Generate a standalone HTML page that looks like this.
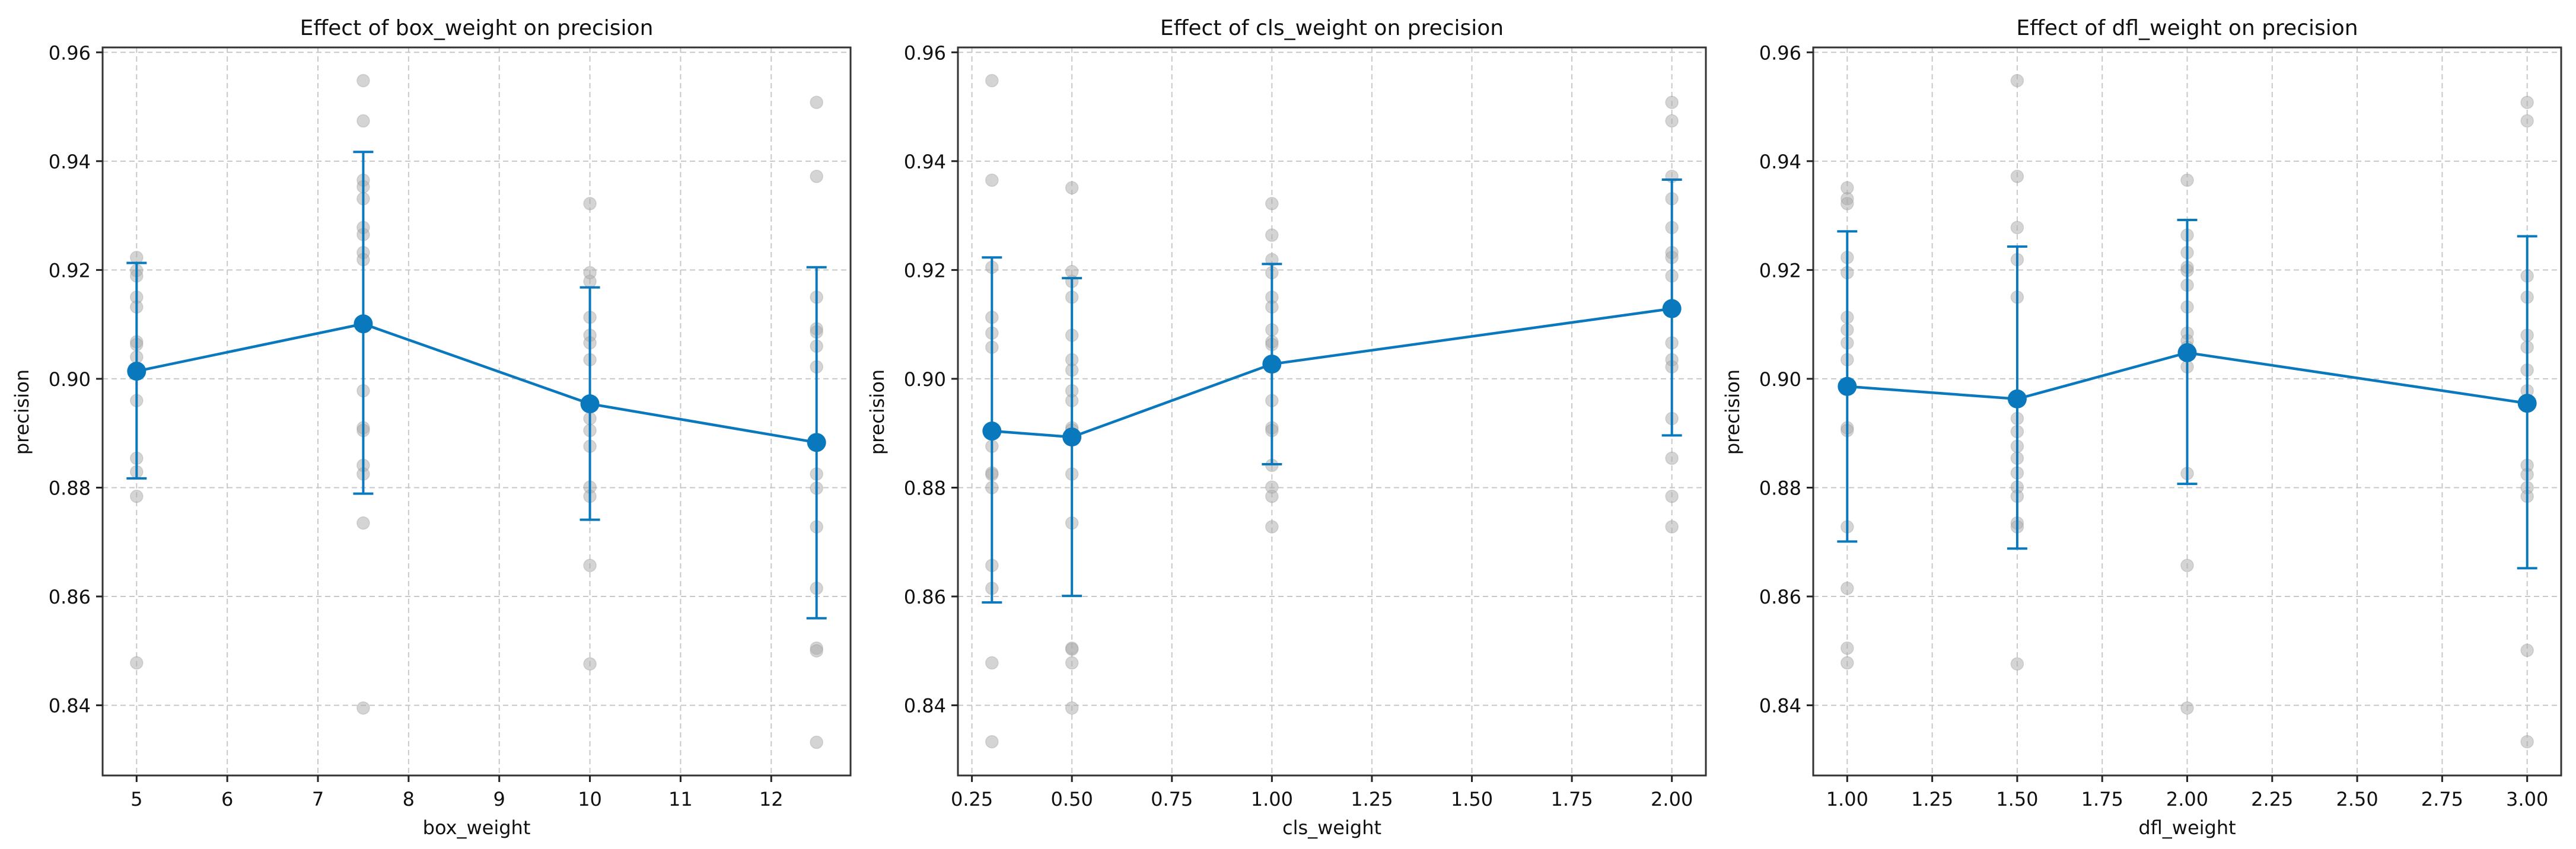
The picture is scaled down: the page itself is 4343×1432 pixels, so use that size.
<!DOCTYPE html>
<html><head><meta charset="utf-8"><style>
html,body{margin:0;padding:0;background:#fff}
svg{display:block}
text{font-family:"DejaVu Sans","Liberation Sans",sans-serif;fill:#111}
</style></head><body>
<svg id="chart" width="4343" height="1432" viewBox="0 0 4343 1432" xmlns="http://www.w3.org/2000/svg"></svg>
<script>
// ---- data ----
const yTicks = [0.84, 0.86, 0.88, 0.90, 0.92, 0.94, 0.96];
const yTickLabels = ["0.84", "0.86", "0.88", "0.90", "0.92", "0.94", "0.96"];

const boxCats = [5, 7.5, 10, 12.5];
const boxTicks = [5, 6, 7, 8, 9, 10, 11, 12];
const boxTickLabels = ["5", "6", "7", "8", "9", "10", "11", "12"];
const boxMeans = [0.9014, 0.9101, 0.8954, 0.8883];
const boxUpper = [0.9213, 0.9417, 0.9168, 0.9205];
const boxLower = [0.8817, 0.8789, 0.8741, 0.8560];
const boxPts0 = [0.9223, 0.9199, 0.9189, 0.9150, 0.9132, 0.9068, 0.9063, 0.9040, 0.8960, 0.8854, 0.8829, 0.8784, 0.8478];
const boxPts1 = [0.9548, 0.9474, 0.9365, 0.9353, 0.9331, 0.9278, 0.9265, 0.9232, 0.9219, 0.8978, 0.8910, 0.8905, 0.8841, 0.8825, 0.8735, 0.8395];
const boxPts2 = [0.9322, 0.9195, 0.9179, 0.9113, 0.9080, 0.9066, 0.9035, 0.8927, 0.8905, 0.8876, 0.8801, 0.8784, 0.8657, 0.8476];
const boxPts3 = [0.9508, 0.9372, 0.9150, 0.9092, 0.9086, 0.9060, 0.9022, 0.8825, 0.8799, 0.8728, 0.8615, 0.8505, 0.8500, 0.8332];

const clsCats = [0.3, 0.5, 1.0, 2.0];
const clsTicks = [0.25, 0.5, 0.75, 1.0, 1.25, 1.5, 1.75, 2.0];
const clsTickLabels = ["0.25", "0.50", "0.75", "1.00", "1.25", "1.50", "1.75", "2.00"];
const clsMeans = [0.8904, 0.8893, 0.9027, 0.9129];
const clsUpper = [0.9223, 0.9185, 0.9211, 0.9366];
const clsLower = [0.8589, 0.8601, 0.8843, 0.8896];
const clsPts0 = [0.9548, 0.9365, 0.9205, 0.9113, 0.9084, 0.9058, 0.8876, 0.8827, 0.8824, 0.8800, 0.8657, 0.8615, 0.8478, 0.8333];
const clsPts1 = [0.9351, 0.9197, 0.9179, 0.9150, 0.9080, 0.9035, 0.9016, 0.8978, 0.8960, 0.8910, 0.8906, 0.8825, 0.8735, 0.8505, 0.8503, 0.8478, 0.8395];
const clsPts2 = [0.9322, 0.9264, 0.9219, 0.9195, 0.9150, 0.9132, 0.9090, 0.9068, 0.9063, 0.8960, 0.8910, 0.8905, 0.8841, 0.8801, 0.8784, 0.8728];
const clsPts3 = [0.9508, 0.9474, 0.9372, 0.9331, 0.9278, 0.9232, 0.9223, 0.9189, 0.9066, 0.9035, 0.9022, 0.8927, 0.8854, 0.8784, 0.8728];

const dflCats = [1.0, 1.5, 2.0, 3.0];
const dflTicks = [1.0, 1.25, 1.5, 1.75, 2.0, 2.25, 2.5, 2.75, 3.0];
const dflTickLabels = ["1.00", "1.25", "1.50", "1.75", "2.00", "2.25", "2.50", "2.75", "3.00"];
const dflMeans = [0.8986, 0.8963, 0.9048, 0.8955];
const dflUpper = [0.9271, 0.9243, 0.9292, 0.9262];
const dflLower = [0.8701, 0.8688, 0.8807, 0.8652];
const dflPts0 = [0.9351, 0.9331, 0.9322, 0.9223, 0.9195, 0.9113, 0.9090, 0.9066, 0.9035, 0.8910, 0.8905, 0.8728, 0.8615, 0.8505, 0.8478];
const dflPts1 = [0.9548, 0.9372, 0.9278, 0.9219, 0.9150, 0.8927, 0.8903, 0.8876, 0.8854, 0.8827, 0.8801, 0.8784, 0.8735, 0.8728, 0.8476];
const dflPts2 = [0.9365, 0.9264, 0.9232, 0.9205, 0.9199, 0.9172, 0.9132, 0.9084, 0.9070, 0.9058, 0.9022, 0.8826, 0.8657, 0.8395];
const dflPts3 = [0.9508, 0.9474, 0.9189, 0.9150, 0.9080, 0.9058, 0.9016, 0.8978, 0.8841, 0.8824, 0.8800, 0.8784, 0.8501, 0.8333];

// ---- drawing ----
const NS = "http://www.w3.org/2000/svg";
const svg = document.getElementById("chart");
const TOP = 80, BOT = 1308, W = 1261;
const Y0 = 0.8271, Y1 = 0.9609;
const BLUE = "#0a78bd";

function el(tag, attrs, parent) {
  const e = document.createElementNS(NS, tag);
  for (const k in attrs) e.setAttribute(k, attrs[k]);
  (parent || svg).appendChild(e);
  return e;
}

function panel(key, left, xmin, xmax, xTicks, xLabels, cats, means, upper, lower, pts, title, xTitle) {
  const g = el("g", {});
  
  
  const xs = v => left + (v - xmin) / (xmax - xmin) * W;
  const ys = v => BOT - (v - Y0) / (Y1 - Y0) * (BOT - TOP);
  const right = left + W;

  const grid = el("g", {stroke: "#c8c8c8", "stroke-width": 2, "stroke-dasharray": "9,6"}, g);
  
  
  xTicks.forEach(t => el("line", {x1: xs(t), x2: xs(t), y1: TOP, y2: BOT}, grid));
  yTicks.forEach(t => el("line", {x1: left, x2: right, y1: ys(t), y2: ys(t)}, grid));

  const sc = el("g", {fill: "#a9a9a9", "fill-opacity": 0.5, stroke: "#999", "stroke-opacity": 0.35, "stroke-width": 1.5}, g);
  
  
  pts.forEach((arr, i) => arr.forEach(v => {
    const c = el("circle", {cx: xs(cats[i]), cy: ys(v), r: 10.5}, sc);
    
    
  }));

  const eb = el("g", {stroke: BLUE, "stroke-width": 4}, g);
  
  
  cats.forEach((c, i) => {
    const x = xs(c);
    el("line", {x1: x, x2: x, y1: ys(upper[i]), y2: ys(lower[i])}, eb);
    el("line", {x1: x - 17, x2: x + 17, y1: ys(upper[i]), y2: ys(upper[i])}, eb);
    el("line", {x1: x - 17, x2: x + 17, y1: ys(lower[i]), y2: ys(lower[i])}, eb);
  });

  const ln = el("polyline", {points: cats.map((c, i) => xs(c) + "," + ys(means[i])).join(" "), fill: "none", stroke: BLUE, "stroke-width": 4.5}, g);
  
  
  cats.forEach((c, i) => {
    const m = el("circle", {cx: xs(c), cy: ys(means[i]), r: 16, fill: BLUE}, g);
    
    
  });

  const fr = el("rect", {x: left, y: TOP, width: W, height: BOT - TOP, fill: "none", stroke: "#333", "stroke-width": 3}, g);
  
  

  const tk = el("g", {stroke: "#222", "stroke-width": 3}, g);
  
  
  xTicks.forEach((t, i) => {
    el("line", {x1: xs(t), x2: xs(t), y1: BOT, y2: BOT + 11}, tk);
    const tx = el("text", {x: xs(t), y: 1359, "text-anchor": "middle", "font-size": 32}, g);
    tx.textContent = xLabels[i];
    
    
  });
  yTicks.forEach((t, i) => {
    el("line", {x1: left - 11, x2: left, y1: ys(t), y2: ys(t)}, tk);
    const tx = el("text", {x: left - 20, y: ys(t) + 12, "text-anchor": "end", "font-size": 32}, g);
    tx.textContent = yTickLabels[i];
    
    
  });

  const tt = el("text", {x: left + W / 2, y: 59, "text-anchor": "middle", "font-size": 36}, g);
  tt.textContent = title;
  
  
  const xt = el("text", {x: left + W / 2, y: 1407, "text-anchor": "middle", "font-size": 32}, g);
  xt.textContent = xTitle;
  
  
  const yt = el("text", {x: 0, y: 0, "text-anchor": "middle", "font-size": 32, transform: "translate(" + (left - 125) + ",695) rotate(-90)"}, g);
  yt.textContent = "precision";
  
  
}

panel("box-weight", 173, 4.625, 12.875, boxTicks, boxTickLabels, boxCats, boxMeans, boxUpper, boxLower,
  [boxPts0, boxPts1, boxPts2, boxPts3], "Effect of box_weight on precision", "box_weight");
panel("cls-weight", 1615, 0.215, 2.085, clsTicks, clsTickLabels, clsCats, clsMeans, clsUpper, clsLower,
  [clsPts0, clsPts1, clsPts2, clsPts3], "Effect of cls_weight on precision", "cls_weight");
panel("dfl-weight", 3057, 0.9, 3.1, dflTicks, dflTickLabels, dflCats, dflMeans, dflUpper, dflLower,
  [dflPts0, dflPts1, dflPts2, dflPts3], "Effect of dfl_weight on precision", "dfl_weight");
</script>
</body></html>
